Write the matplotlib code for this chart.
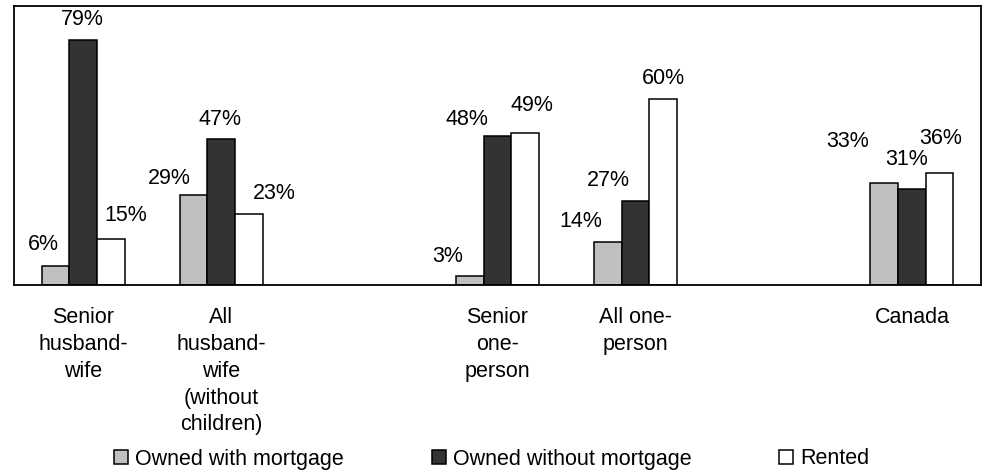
"""
Housing tenure by household type (grouped bars, Excel-style)
"""

### Import modules
import numpy as np
import matplotlib
matplotlib.use('Agg')
import matplotlib.pyplot as plt
from matplotlib.patches import Patch

### Data
categories = ['Senior\nhusband-\nwife',
              'All\nhusband-\nwife\n(without\nchildren)',
              '',
              'Senior\none-\nperson',
              'All one-\nperson',
              '',
              'Canada']
series = ['Owned with mortgage', 'Owned without mortgage', 'Rented']
# one value per non-blank category
mortgage = [6, 29, 3, 14, 33]
nomortgage = [79, 47, 48, 27, 31]
rented = [15, 23, 49, 60, 36]

### Label nudges (pixels) to mimic the hand-placed data labels
label_dx = [[-12, -24, -22, -27, -37],
            [-1, -1, -31, -27, -5],
            [15, 25, 7, 0, 1]]
label_dy = [[16, 11, 14, 15, 36],
            [15, 14, 11, 15, 24],
            [17, 15, 22, 15, 29]]

colors = ['#c0c0c0', '#333333', '#ffffff']

###############################################################################
### Plot figure
plt.rcParams['font.family'] = ['Liberation Sans', 'DejaVu Sans']
fs = 15.5

fig = plt.figure(figsize=(9.82, 4.72), dpi=100)
ax = fig.add_axes([14/982, 1-285/472, 967/982, 279/472])

slots = np.arange(len(categories))
used = np.array([i for i, c in enumerate(categories) if c != ''])
width = 0.2

for s, vals in enumerate([mortgage, nomortgage, rented]):
    xs = used + (s - 1)*width
    bars = ax.bar(xs, vals, width, color=colors[s], edgecolor='k',
                  linewidth=1.1, label=series[s], zorder=2)
    for j, (b, v) in enumerate(zip(bars, vals)):
        ax.annotate('%d%%' % v, (b.get_x() + b.get_width()/2, v),
                    xytext=(label_dx[s][j], label_dy[s][j]),
                    textcoords='offset pixels', ha='center', va='baseline',
                    fontsize=fs, color='k')

ax.set_xlim(-0.5, len(categories) - 0.5)
ax.set_ylim(0, 90)
ax.set_xticks(slots)
ax.set_xticklabels(categories, fontsize=fs, linespacing=1.36, va='top')
ax.set_yticks([])
ax.tick_params(axis='x', length=0, pad=16)
for sp in ax.spines.values():
    sp.set_color('k')
    sp.set_linewidth(1.3)

### Legend: three entries spread like the original
handles = [Patch(facecolor=c, edgecolor='k', linewidth=1.1) for c in colors]
xleft = [114, 432, 779]
for h, name, xl in zip(handles, series, xleft):
    leg = fig.legend([h], [name], loc='center left',
                     bbox_to_anchor=(xl/982, 1-459/472), frameon=False,
                     fontsize=fs, handlelength=0.65, handleheight=0.65,
                     handletextpad=0.33, borderpad=0, borderaxespad=0)

plt.savefig('out.png', dpi=100)
